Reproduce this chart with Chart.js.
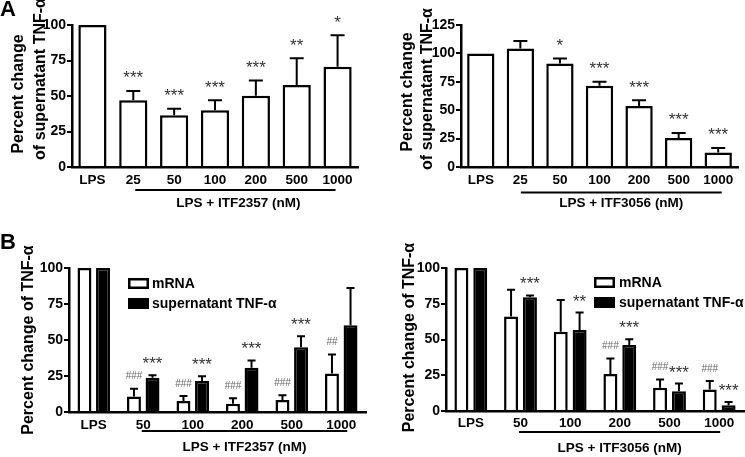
<!DOCTYPE html>
<html><head><meta charset="utf-8">
<script src="https://cdn.jsdelivr.net/npm/chart.js@4.4.1/dist/chart.umd.min.js"></script>
<style>
html,body{margin:0;padding:0;background:#fff;}
#wrap{position:relative;width:745px;height:457px;overflow:hidden;background:#fff;}
#wrap canvas{position:absolute;left:0;top:0;pointer-events:none;}
</style></head><body>
<div id="wrap">
<canvas id="c1" width="745" height="457"></canvas>
<canvas id="c2" width="745" height="457"></canvas>
<canvas id="c3" width="745" height="457"></canvas>
<canvas id="c4" width="745" height="457"></canvas>
</div>
<script>
// ---------- DATA ----------
const aCats = ['LPS', '25', '50', '100', '200', '500', '1000'];
const aLeftMean = [100, 47, 36.5, 40, 50.1, 57.7, 70.6];
const aLeftErr  = [0, 6.6, 4.5, 7, 10.9, 18.8, 22.1];
const aLeftSig  = ['', '***', '***', '***', '***', '**', '*'];
const aRightMean = [100, 104.4, 91.2, 71.5, 53.8, 25.6, 12.7];
const aRightErr  = [0, 6.5, 4.4, 3.5, 5, 4.4, 4.1];
const aRightSig  = ['', '', '*', '***', '***', '***', '***'];

const bCats = ['LPS', '50', '100', '200', '500', '1000'];
const bLeftMrna    = [100, 10.7, 7.6, 5.8, 8.3, 26.8];
const bLeftMrnaErr = [0, 5.5, 3.5, 3.7, 3.3, 13.2];
const bLeftMrnaSig = ['', '###', '###', '###', '###', '##'];
const bLeftSup     = [100, 23.8, 21.5, 30.7, 45, 60.2];
const bLeftSupErr  = [0, 1.8, 3.4, 5.1, 7.6, 25.9];
const bLeftSupSig  = ['', '***', '***', '***', '***', ''];

const bRightMrna    = [100, 66, 55.5, 25.8, 16.2, 15];
const bRightMrnaErr = [0, 18.8, 22.2, 11, 5.8, 5.9];
const bRightMrnaSig = ['', '', '', '###', '###', '###'];
const bRightSup     = [100, 79.6, 56.7, 46.1, 13.8, 4];
const bRightSupErr  = [0, 1.2, 12.1, 4, 5.4, 2.3];
const bRightSupSig  = ['', '***', '**', '***', '***', '***'];

const aTicks = [0, 25, 50, 75, 100];
const aRightTicks = [0, 25, 50, 75, 100, 125];
const bTicks = [0, 25, 50, 75, 100];

// ---------- STYLE ----------
const SANS = '"Liberation Sans", Arial, Helvetica, sans-serif';

const deco = {
  id: 'deco',
  afterDatasetsDraw(chart, args, o) {
    const ctx = chart.ctx, y = chart.scales.y;
    ctx.save();
    chart.data.datasets.forEach((ds, di) => {
      const meta = chart.getDatasetMeta(di);
      const err = o.errors[di], sig = o.sigs[di];
      meta.data.forEach((bar, i) => {
        const v = ds.data[i], e = err[i];
        let topV = v;
        if (e > 0) {
          const yt = y.getPixelForValue(v + e), yb = y.getPixelForValue(v);
          ctx.strokeStyle = '#000'; ctx.lineWidth = 2;
          ctx.beginPath();
          ctx.moveTo(bar.x, yb); ctx.lineTo(bar.x, yt);
          ctx.moveTo(bar.x - o.cap / 2, yt); ctx.lineTo(bar.x + o.cap / 2, yt);
          ctx.stroke();
          topV = v + e;
        }
        const s = sig[i];
        if (s) {
          const isHash = s[0] === '#';
          ctx.fillStyle = isHash ? '#666' : '#333';
          ctx.font = isHash ? '10px ' + SANS : '17px ' + SANS;
          ctx.textAlign = 'center'; ctx.textBaseline = 'alphabetic';
          ctx.fillText(s, bar.x, y.getPixelForValue(topV) - (isHash ? o.hashOff : o.starOff));
        }
      });
    });
    ctx.restore();
  },
  afterDraw(chart, args, o) {
    const ctx = chart.ctx, x = chart.scales.x;
    ctx.save();
    ctx.fillStyle = '#000'; ctx.strokeStyle = '#000';
    // y titles
    ctx.font = 'bold 16px ' + SANS;
    o.yTitle.forEach(l => {
      ctx.save();
      ctx.translate(l.x, l.y);
      ctx.rotate(-Math.PI / 2);
      ctx.textAlign = 'center'; ctx.textBaseline = 'alphabetic';
      ctx.fillText(l.t, 0, 0);
      ctx.restore();
    });
    // bracket + x title
    const n = chart.data.labels.length;
    const x1 = x.getPixelForValue(1) + o.br.d1, x2 = x.getPixelForValue(n - 1) + o.br.d2;
    ctx.lineWidth = 2;
    ctx.beginPath(); ctx.moveTo(x1, o.br.y); ctx.lineTo(x2, o.br.y); ctx.stroke();
    ctx.font = 'bold 13.5px ' + SANS;
    ctx.textAlign = 'center'; ctx.textBaseline = 'middle';
    ctx.fillText(o.xTitle, (x1 + x2) / 2 + o.br.tdx, o.br.ty);
    // legend
    if (o.legend) {
      const L = o.legend;
      chart.data.datasets.forEach((ds, i) => {
        const by = L.y + i * L.dy;
        ctx.fillStyle = ds.backgroundColor;
        ctx.fillRect(L.x, by, L.w, L.h);
        ctx.lineWidth = 2.5; ctx.strokeStyle = '#000';
        ctx.strokeRect(L.x + 1.25, by + 1.25, L.w - 2.5, L.h - 2.5);
        ctx.fillStyle = '#000';
        ctx.font = 'bold 14px ' + SANS;
        ctx.textAlign = 'left'; ctx.textBaseline = 'middle';
        ctx.fillText(ds.label, L.tx, by + L.h / 2 + 0.5);
      });
    }
    // panel letter
    if (o.letter) {
      ctx.fillStyle = '#000';
      ctx.font = 'bold 22px ' + SANS;
      ctx.textAlign = 'left'; ctx.textBaseline = 'alphabetic';
      ctx.fillText(o.letter.t, o.letter.x, o.letter.y);
    }
    ctx.restore();
  }
};

function makeChart(id, p) {
  return new Chart(document.getElementById(id), {
    type: 'bar',
    data: {
      labels: p.labels,
      datasets: p.series.map(s => ({
        label: s.label, data: s.values,
        backgroundColor: s.fill, borderColor: '#000', borderWidth: 2.5,
        categoryPercentage: p.catPct, barPercentage: p.barPct
      }))
    },
    plugins: [deco],
    options: {
      responsive: false, animation: false, events: [],
      layout: { padding: p.pad },
      plugins: {
        legend: { display: false }, tooltip: { enabled: false },
        deco: p.deco
      },
      scales: {
        x: {
          type: 'category', offset: true,
          grid: { display: false, drawTicks: false },
          border: { display: true, color: '#000', width: 2.5 },
          ticks: { color: '#000', font: { family: SANS, size: 13.5, weight: 'bold' }, padding: p.xPad, autoSkip: false, maxRotation: 0 },
          afterFit: s => { s.height = p.xH; }
        },
        y: {
          min: 0, max: p.yMax,
          afterBuildTicks: s => { s.ticks = p.yTicks.map(v => ({ value: v })); },
          ticks: { color: '#000', font: { family: SANS, size: 14, weight: 'bold' }, padding: 1 },
          grid: { display: true, drawOnChartArea: false, drawTicks: true, tickLength: 5, color: '#000', lineWidth: 2 },
          border: { display: true, color: '#000', width: 2.5 },
          afterFit: s => { s.width = p.yW; }
        }
      }
    }
  });
}

// Panel A left
makeChart('c1', {
  labels: aCats,
  series: [{ label: 'supernatant TNF-α', values: aLeftMean, fill: '#fff' }],
  catPct: 1, barPct: 0.69,
  pad: { left: 0, top: 25, right: 387, bottom: 230 }, yW: 72, xH: 60, xPad: 5,
  yMax: 100, yTicks: aTicks,
  deco: {
    errors: [aLeftErr], sigs: [aLeftSig], cap: 14, starOff: 7.5, hashOff: 9.5,
    yTitle: [{ t: 'Percent change', x: 23.2, y: 94 }, { t: 'of supernatant TNF-α', x: 44.8, y: 79 }],
    br: { y: 190, d1: 2, d2: -2, ty: 203, tdx: 3 },
    xTitle: 'LPS + ITF2357 (nM)',
    letter: { t: 'A', x: 0, y: 16 }
  }
});

// Panel A right
makeChart('c2', {
  labels: aCats,
  series: [{ label: 'supernatant TNF-α', values: aRightMean, fill: '#fff' }],
  catPct: 1, barPct: 0.69,
  pad: { left: 372, top: 25, right: 7, bottom: 230 }, yW: 89, xH: 60, xPad: 5,
  yMax: 125, yTicks: aRightTicks,
  deco: {
    errors: [aRightErr], sigs: [aRightSig], cap: 14, starOff: 7.5, hashOff: 9.5,
    yTitle: [{ t: 'Percent change', x: 411.8, y: 92 }, { t: 'of supernatant TNF-α', x: 431.8, y: 89 }],
    br: { y: 192.5, d1: 0.5, d2: 3.5, ty: 203, tdx: 0 },
    xTitle: 'LPS + ITF3056 (nM)'
  }
});

// Panel B left
makeChart('c3', {
  labels: bCats,
  series: [
    { label: 'mRNA', values: bLeftMrna, fill: '#fff' },
    { label: 'supernatant TNF-α', values: bLeftSup, fill: '#000' }
  ],
  catPct: 0.75, barPct: 0.75,
  pad: { left: 0, top: 268, right: 379, bottom: 0 }, yW: 69, xH: 45, xPad: 5,
  yMax: 100, yTicks: bTicks,
  deco: {
    errors: [bLeftMrnaErr, bLeftSupErr], sigs: [bLeftMrnaSig, bLeftSupSig], cap: 8, starOff: 6, hashOff: 9.5,
    yTitle: [{ t: 'Percent change of TNF-α', x: 33.2, y: 340 }],
    br: { y: 431, d1: -1.5, d2: 6, ty: 447, tdx: 0 },
    xTitle: 'LPS + ITF2357 (nM)',
    legend: { x: 128, y: 278, dy: 20, w: 21, h: 11, tx: 152 },
    letter: { t: 'B', x: 0, y: 249 }
  }
});

// Panel B right
makeChart('c4', {
  labels: bCats,
  series: [
    { label: 'mRNA', values: bRightMrna, fill: '#fff' },
    { label: 'supernatant TNF-α', values: bRightSup, fill: '#000' }
  ],
  catPct: 0.76, barPct: 0.74,
  pad: { left: 372, top: 268, right: 1, bottom: 0 }, yW: 74, xH: 46, xPad: 4,
  yMax: 100, yTicks: bTicks,
  deco: {
    errors: [bRightMrnaErr, bRightSupErr], sigs: [bRightMrnaSig, bRightSupSig], cap: 8, starOff: 6, hashOff: 9.5,
    yTitle: [{ t: 'Percent change of TNF-α', x: 413.5, y: 337.5 }],
    br: { y: 432, d1: -1.5, d2: 1, ty: 448, tdx: 0 },
    xTitle: 'LPS + ITF3056 (nM)',
    legend: { x: 594, y: 277, dy: 20, w: 21, h: 11, tx: 619 }
  }
});
</script>
</body></html>
